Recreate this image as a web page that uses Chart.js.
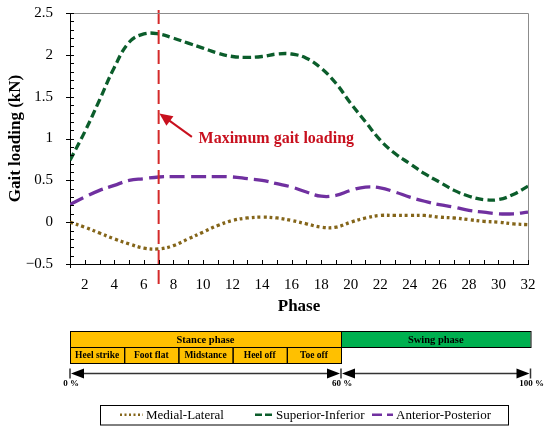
<!DOCTYPE html>
<html>
<head>
<meta charset="utf-8">
<script src="https://cdn.jsdelivr.net/npm/chart.js@4/dist/chart.umd.min.js"></script>
<style>
  html, body { margin: 0; padding: 0; background: #fff; }
  #wrap { width: 550px; height: 431px; }
</style>
</head>
<body>
<div id="wrap"><canvas id="gaitChart" width="550" height="431"></canvas></div>
<script>
const serif = "'Liberation Serif', 'Times New Roman', serif";

// gait phase (x) and the three loading components in kN
const phases = [1, 2, 3, 4, 5, 6, 7, 8, 9, 10, 11, 12, 13, 14, 15, 16,
  17, 18, 19, 20, 21, 22, 23, 24, 25, 26, 27, 28, 29, 30, 31, 32];
const medialLateral = [0.00, -0.06, -0.13, -0.20, -0.26, -0.31, -0.32, -0.28, -0.20, -0.12, -0.04, 0.02,
  0.05, 0.06, 0.05, 0.02, -0.02, -0.06, -0.06, 0.00, 0.05, 0.08, 0.08, 0.08,
  0.08, 0.06, 0.05, 0.03, 0.01, 0.00, -0.02, -0.03];
const superiorInferior = [0.74, 1.08, 1.46, 1.85, 2.15, 2.25, 2.25, 2.20, 2.14, 2.08, 2.02, 1.98,
  1.97, 1.98, 2.01, 2.01, 1.96, 1.84, 1.66, 1.42, 1.20, 0.98, 0.82, 0.70,
  0.58, 0.48, 0.38, 0.31, 0.27, 0.27, 0.33, 0.43];
const anteriorPosterior = [0.21, 0.30, 0.38, 0.44, 0.50, 0.52, 0.54, 0.545, 0.545, 0.545, 0.545, 0.54,
  0.52, 0.50, 0.46, 0.42, 0.36, 0.31, 0.32, 0.38, 0.42, 0.41, 0.36, 0.30,
  0.25, 0.21, 0.18, 0.14, 0.12, 0.10, 0.10, 0.12];

const xTickLabels = [2, 4, 6, 8, 10, 12, 14, 16, 18, 20, 22, 24, 26, 28, 30, 32];
const yTickLabels = [-0.5, 0, 0.5, 1, 1.5, 2, 2.5];

// annotation (data units)
const maxLoadingPhase = 7;
const annotationText = 'Maximum gait loading';
const arrowTip = { x: 7.05, y: 1.3 };
const arrowTail = { x: 9.25, y: 1.02 };
const annotationPos = { x: 9.7, y: 0.99 };

// gait cycle diagram
const stanceLabel = 'Stance phase';
const swingLabel = 'Swing phase';
const subPhaseLabels = ['Heel strike', 'Foot flat', 'Midstance', 'Heel off', 'Toe off'];
const percentLabels = ['0 %', '60 %', '100 %'];

const seriesLabels = ['Medial-Lateral', 'Superior-Inferior', 'Anterior-Posterior'];
const seriesColors = ['#846519', '#0b5d2b', '#7030a0'];
const seriesDash = [[3, 3], [8, 4], [15, 6]];

function pts(vals) {
  return phases.map((p, i) => ({ x: p, y: vals[i] }));
}

function drawArrowHead(ctx, x, y, dir) {
  // dir: -1 points left, 1 points right
  ctx.beginPath();
  ctx.moveTo(x, y);
  ctx.lineTo(x - dir * 13, y - 5);
  ctx.lineTo(x - dir * 13, y + 5);
  ctx.closePath();
  ctx.fill();
}

const decor = {
  id: 'decor',
  afterDatasetsDraw(chart) {
    const { ctx, chartArea: a, scales: { x, y } } = chart;
    ctx.save();
    // vertical marker at maximum loading
    const mx = x.getPixelForValue(maxLoadingPhase);
    ctx.strokeStyle = '#d42a2a';
    ctx.lineWidth = 2;
    ctx.setLineDash([14, 6]);
    ctx.beginPath();
    ctx.moveTo(mx, a.top - 3);
    ctx.lineTo(mx, a.bottom + 26);
    ctx.stroke();
    ctx.setLineDash([]);

    // arrow + label
    const tx = x.getPixelForValue(arrowTip.x), ty = y.getPixelForValue(arrowTip.y);
    const sx = x.getPixelForValue(arrowTail.x), sy = y.getPixelForValue(arrowTail.y);
    const ang = Math.atan2(ty - sy, tx - sx);
    ctx.strokeStyle = '#c8101e';
    ctx.fillStyle = '#c8101e';
    ctx.lineWidth = 2;
    ctx.beginPath();
    ctx.moveTo(sx, sy);
    ctx.lineTo(tx - 8 * Math.cos(ang), ty - 8 * Math.sin(ang));
    ctx.stroke();
    ctx.beginPath();
    ctx.moveTo(tx, ty);
    ctx.lineTo(tx - 13 * Math.cos(ang) + 6 * Math.sin(ang), ty - 13 * Math.sin(ang) - 6 * Math.cos(ang));
    ctx.lineTo(tx - 13 * Math.cos(ang) - 6 * Math.sin(ang), ty - 13 * Math.sin(ang) + 6 * Math.cos(ang));
    ctx.closePath();
    ctx.fill();
    ctx.font = 'bold 16px ' + serif;
    ctx.textAlign = 'left';
    ctx.textBaseline = 'middle';
    ctx.fillText(annotationText, x.getPixelForValue(annotationPos.x), y.getPixelForValue(annotationPos.y));
    ctx.restore();
  },
  afterDraw(chart) {
    const { ctx, chartArea: a, scales: { x, y } } = chart;
    ctx.save();
    // frame
    ctx.strokeStyle = '#8c8c8c';
    ctx.lineWidth = 1;
    ctx.beginPath();
    ctx.moveTo(a.left, a.top + 0.5);
    ctx.lineTo(a.right + 0.5, a.top + 0.5);
    ctx.lineTo(a.right + 0.5, a.bottom);
    ctx.stroke();

    // tick marks
    ctx.strokeStyle = '#000';
    ctx.beginPath();
    for (let p = 1; p <= 32; p++) {
      const px = Math.round(x.getPixelForValue(p)) + 0.5;
      ctx.moveTo(px, a.bottom - 4);
      ctx.lineTo(px, p === 1 ? a.bottom + 4 : a.bottom);
    }
    for (let i = 0; i <= 30; i++) {
      const v = -0.5 + i * 0.1;
      const py = Math.round(y.getPixelForValue(v)) + 0.5;
      const major = i % 5 === 0;
      ctx.moveTo(major ? a.left - 4 : a.left, py);
      ctx.lineTo(a.left + 4, py);
    }
    ctx.stroke();

    // gait cycle diagram
    const x0 = a.left, cellW = 54.2, xs = x0 + cellW * 5, x1 = a.right + 2.5;
    const r0 = 331, r1 = 347, r2 = 363;
    ctx.lineWidth = 1;
    ctx.strokeStyle = '#000';
    ctx.fillStyle = '#ffc000';
    ctx.fillRect(x0, r0, xs - x0, r2 - r0);
    ctx.fillStyle = '#00b050';
    ctx.fillRect(xs, r0, x1 - xs, r1 - r0);
    ctx.strokeRect(x0 + 0.5, r0 + 0.5, xs - x0, r1 - r0);
    ctx.strokeRect(xs + 0.5, r0 + 0.5, x1 - xs, r1 - r0);
    for (let i = 0; i < subPhaseLabels.length; i++) {
      ctx.strokeRect(x0 + i * cellW + 0.5, r1 + 0.5, cellW, r2 - r1);
    }
    ctx.fillStyle = '#000';
    ctx.textAlign = 'center';
    ctx.textBaseline = 'middle';
    ctx.font = 'bold 10.5px ' + serif;
    ctx.fillText(stanceLabel, (x0 + xs) / 2, (r0 + r1) / 2 + 1);
    ctx.fillText(swingLabel, (xs + x1) / 2, (r0 + r1) / 2 + 1);
    ctx.font = 'bold 9.5px ' + serif;
    subPhaseLabels.forEach((t, i) => {
      ctx.fillText(t, x0 + (i + 0.5) * cellW, (r1 + r2) / 2 + 1);
    });

    // cycle arrows
    const ay = 373.5;
    ctx.strokeStyle = '#333';
    ctx.fillStyle = '#000';
    ctx.lineWidth = 1.5;
    ctx.beginPath();
    ctx.moveTo(x0 + 6, ay); ctx.lineTo(xs - 6, ay);
    ctx.moveTo(xs + 6, ay); ctx.lineTo(x1 - 6, ay);
    [x0, xs, x1].forEach(px => { ctx.moveTo(px, ay - 5); ctx.lineTo(px, ay + 5); });
    ctx.stroke();
    drawArrowHead(ctx, x0 + 1, ay, -1);
    drawArrowHead(ctx, xs - 1, ay, 1);
    drawArrowHead(ctx, xs + 1, ay, -1);
    drawArrowHead(ctx, x1 - 1, ay, 1);
    ctx.font = 'bold 9px ' + serif;
    [x0, xs, x1].forEach((px, i) => ctx.fillText(percentLabels[i], px + 1, 384));

    // legend
    const lx0 = 100, lx1 = 508, ly0 = 405, ly1 = 424.5, lyc = (ly0 + ly1) / 2;
    ctx.lineWidth = 1;
    ctx.strokeStyle = '#000';
    ctx.strokeRect(lx0 + 0.5, ly0 + 0.5, lx1 - lx0, ly1 - ly0);
    ctx.font = '13px ' + serif;
    const sampleStarts = [20, 155, 272];
    const sampleW = [23, 18, 21];
    ctx.textAlign = 'left';
    seriesLabels.forEach((t, i) => {
      const cx = lx0 + sampleStarts[i];
      ctx.strokeStyle = seriesColors[i];
      ctx.lineWidth = 2.5;
      ctx.setLineDash(i === 0 ? [2, 2.5] : i === 1 ? [7, 3] : [10, 5]);
      ctx.beginPath();
      ctx.moveTo(cx, lyc);
      ctx.lineTo(cx + sampleW[i], lyc);
      ctx.stroke();
      ctx.setLineDash([]);
      ctx.fillStyle = '#000';
      ctx.fillText(t, cx + sampleW[i] + 3, lyc + 1);
    });
    ctx.restore();
  }
};

const seriesData = [medialLateral, superiorInferior, anteriorPosterior];

new Chart(document.getElementById('gaitChart'), {
  type: 'line',
  data: {
    datasets: seriesData.map((vals, i) => ({
      label: seriesLabels[i],
      data: pts(vals),
      borderColor: seriesColors[i],
      borderWidth: 3.3,
      borderDash: seriesDash[i],
      borderCapStyle: 'butt',
      fill: false,
      tension: 0.4,
      pointRadius: 0
    }))
  },
  options: {
    responsive: false,
    animation: false,
    layout: { padding: { left: 0, right: 22, top: 13, bottom: 114 } },
    plugins: { legend: { display: false }, tooltip: { enabled: false } },
    scales: {
      x: {
        type: 'linear',
        min: 1,
        max: 32,
        afterBuildTicks: s => { s.ticks = xTickLabels.map(v => ({ value: v })); },
        afterFit: s => { s.height = 53; s.paddingLeft = 0; s.paddingRight = 0; },
        grid: { display: false, drawTicks: false },
        border: { display: true, color: '#000', width: 1 },
        ticks: { color: '#000', padding: 12, maxRotation: 0, autoSkip: false, font: { family: serif, size: 15 } },
        title: { display: true, text: 'Phase', color: '#000', padding: 0, font: { family: serif, size: 17, weight: 'bold' } }
      },
      y: {
        min: -0.5,
        max: 2.5,
        afterBuildTicks: s => { s.ticks = yTickLabels.map(v => ({ value: v })); },
        afterFit: s => { s.width = 70; s.paddingTop = 0; s.paddingBottom = 0; },
        grid: { display: false, drawTicks: false },
        border: { display: true, color: '#000', width: 1 },
        ticks: {
          color: '#000', padding: 17, font: { family: serif, size: 15 },
          callback: v => (v < 0 ? '\u2212' + Math.abs(v) : String(v))
        },
        title: { display: true, text: 'Gait loading (kN)', color: '#000', padding: 5, font: { family: serif, size: 17, weight: 'bold' } }
      }
    }
  },
  plugins: [decor]
});
</script>
</body>
</html>
